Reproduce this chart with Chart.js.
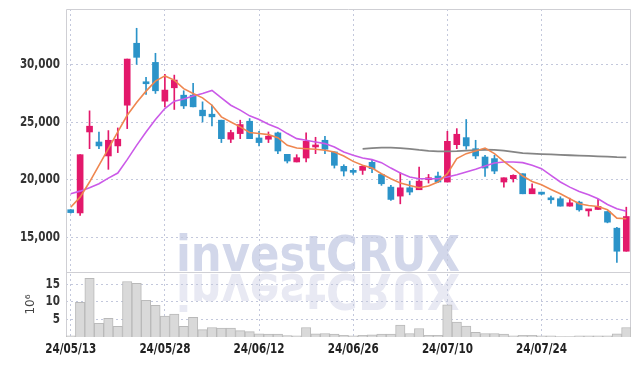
<!DOCTYPE html>
<html>
<head>
<meta charset="utf-8">
<script src="https://cdn.jsdelivr.net/npm/chart.js@4.4.1/dist/chart.umd.min.js"></script>
<style>
  html, body { margin: 0; padding: 0; background: #fff; }
  #wrap { width: 639px; height: 366px; }
</style>
</head>
<body>
<div id="wrap"><canvas id="c" width="639" height="366"></canvas></div>
<script>
// trading days shown on the x axis
const dates = [
  '24/05/13','24/05/14','24/05/16','24/05/17','24/05/20','24/05/21','24/05/22','24/05/23','24/05/24','24/05/27',
  '24/05/28','24/05/29','24/05/30','24/05/31','24/06/03','24/06/04','24/06/05','24/06/07','24/06/10','24/06/11',
  '24/06/12','24/06/13','24/06/14','24/06/17','24/06/18','24/06/19','24/06/20','24/06/21','24/06/24','24/06/25',
  '24/06/26','24/06/27','24/06/28','24/07/01','24/07/02','24/07/03','24/07/04','24/07/05','24/07/08','24/07/09',
  '24/07/10','24/07/11','24/07/12','24/07/15','24/07/16','24/07/17','24/07/18','24/07/19','24/07/22','24/07/23',
  '24/07/24','24/07/25','24/07/26','24/07/29','24/07/30','24/07/31','24/08/01','24/08/02','24/08/05','24/08/06'
];

const open  = [17400,17120,24140,23270,22060,22930,26460,31830,28490,30170,
               26810,27970,27330,27330,26030,25680,25160,23510,24000,25070,
               23620,23510,24060,22200,21540,21880,22840,23420,22410,21160,
               20750,20810,21510,20460,19360,18580,19300,19130,20000,20320,
               19800,23040,23650,22690,21970,21830,19800,20090,20520,18780,
               18870,18400,18350,17710,18060,17300,17420,17240,15800,13800];
const high  = [17400,22170,25970,24140,24260,24490,30460,33130,28870,30960,
               29130,29070,27710,28350,26750,26460,25160,24290,25160,25300,
               24200,24140,24140,22200,22170,24060,23680,23770,22410,21300,
               20960,21250,21680,20460,19510,20610,19880,21100,20460,20670,
               24200,24430,25220,23420,22120,22120,20170,20430,20520,19650,
               18930,18580,18520,18400,18140,17420,18290,17240,15880,17620];
const low   = [17100,16900,22690,22690,20900,22350,24430,30000,27390,27480,
               26320,26090,26170,26320,25010,24670,23220,23220,23560,23560,
               22930,23220,22260,21450,21540,21540,22260,22260,21010,20320,
               20460,20460,20610,19510,18200,17910,18690,19130,19710,19740,
               19800,22690,22640,21830,20290,20520,19360,19800,18780,18780,
               18700,17950,17710,17710,17270,16840,17420,16260,12840,13800];
const close = [17150,22170,24640,22930,23420,23510,30460,30610,28320,27710,
               27770,28640,26400,26320,25540,25450,23560,24090,24780,23560,
               23220,23770,22490,21620,21910,23330,22980,22640,21250,20750,
               20640,21160,20960,19650,18290,19300,18930,19880,20170,19800,
               23330,23940,22930,22060,21010,20750,20170,20380,18780,19220,
               18750,18260,17710,18000,17390,17420,17680,16320,13800,16810];

// volume in millions of shares
const volume = [0.3,9.8,16.6,3.9,5.3,3.0,15.7,15.2,10.4,9.0,
                5.9,6.5,3.0,5.6,2.1,2.7,2.5,2.5,1.8,1.5,
                0.9,0.8,0.8,0.4,0.3,2.7,0.9,1.0,0.8,0.5,
                0.3,0.5,0.6,0.85,0.85,3.4,1.0,2.4,0.5,0.5,
                9.1,4.2,3.1,1.3,1.0,1.0,0.8,0.3,0.5,0.5,
                0.3,0.3,0.1,0.1,0.3,0.3,0.3,0.3,0.9,2.7];

// moving average lines
const maShort = [17620,18490,19800,21250,22690,24140,25590,26700,27680,28550,
                 29000,28640,27900,27480,27100,26460,25450,25010,24580,24090,
                 24000,23910,23650,22980,22750,22690,22640,22550,22400,22060,
                 21590,21250,21010,20520,20090,19710,19500,19300,19450,19800,
                 20520,21830,22260,22490,22750,22260,21590,20960,20320,19850,
                 19560,19160,18780,18350,17910,17770,17680,17390,16670,16610];
const maMid   = [18780,19010,19300,19650,20140,20580,21740,22980,24140,25220,
                 26170,26810,26990,27250,27480,27740,27100,26460,26030,25540,
                 25220,24810,24490,24000,23560,23420,23270,23130,22840,22400,
                 22120,21880,21740,21480,21010,20580,20230,20090,20090,20090,
                 20230,20430,20670,20900,21190,21450,21540,21540,21480,21250,
                 20960,20380,19800,19360,18980,18690,18350,17850,17480,17270];
const maLong  = [null,null,null,null,null,null,null,null,null,null,
                 null,null,null,null,null,null,null,null,null,null,
                 null,null,null,null,null,null,null,null,null,null,
                 null,22670,22740,22790,22780,22740,22680,22580,22500,22460,
                 22460,22480,22530,22570,22600,22580,22520,22420,22300,22260,
                 22220,22190,22160,22120,22090,22060,22030,22000,21960,21940];

const priceTicks = [15000, 20000, 25000, 30000];
const volTicks = [5, 10, 15];

const UP = '#e3186b', DOWN = '#2b93c9';
const candleColors = open.map((o, i) => close[i] >= o ? UP : DOWN);
const GRID = '#c3c8dc';
const LABEL_FONT = 'bold 14.5px "DejaVu Sans Condensed", "DejaVu Sans", sans-serif';

const watermark = {
  id: 'watermark',
  beforeDraw(chart) {
    const ctx = chart.ctx;
    const yb = chart.scales.y.bottom;
    ctx.save();
    ctx.font = 'bold 50px "DejaVu Sans", sans-serif';
    ctx.textBaseline = 'alphabetic';
    const txt = 'investCRUX';
    const sx = 284 / ctx.measureText(txt).width;
    // mirrored copy under the price panel
    ctx.save();
    ctx.beginPath();
    ctx.rect(0, yb, chart.width, 44);
    ctx.clip();
    ctx.translate(176, yb + 2);
    ctx.scale(sx, -1);
    ctx.fillStyle = '#e8e9f3';
    ctx.fillText(txt, 0, 0);
    ctx.restore();
    ctx.translate(176, yb - 1);
    ctx.scale(sx, 1);
    ctx.fillStyle = '#d2d7ea';
    ctx.fillText(txt, 0, 0);
    ctx.restore();
  }
};

const frame = {
  id: 'frame',
  beforeDatasetsDraw(chart) {
    const {ctx, chartArea: a} = chart;
    const yb = chart.scales.y.bottom;
    ctx.save();
    ctx.strokeStyle = '#cfcfd4';
    ctx.lineWidth = 1;
    ctx.beginPath();
    ctx.moveTo(a.left + 0.5, a.bottom);
    ctx.lineTo(a.left + 0.5, a.top + 0.5);
    ctx.lineTo(a.right - 0.5, a.top + 0.5);
    ctx.lineTo(a.right - 0.5, a.bottom);
    ctx.moveTo(a.left, Math.round(yb) + 0.5);
    ctx.lineTo(a.right, Math.round(yb) + 0.5);
    ctx.stroke();
    ctx.restore();
  }
};

// tick labels in a narrowed face, like the original
let squeeze = 0.8;
function narrowText(ctx, txt, x, y, align, base, color) {
  ctx.save();
  ctx.translate(x, y);
  ctx.scale(squeeze, 1);
  ctx.font = LABEL_FONT;
  ctx.fillStyle = color;
  ctx.textAlign = align;
  ctx.textBaseline = base;
  ctx.fillText(txt, 0, 0);
  ctx.restore();
}

const tickLabels = {
  id: 'tickLabels',
  afterDraw(chart) {
    const ctx = chart.ctx;
    const {x, y, v} = chart.scales;
    ctx.save();
    ctx.font = LABEL_FONT;
    squeeze = 51 / ctx.measureText('24/05/13').width;
    ctx.restore();
    const right = chart.chartArea.left - 6;
    priceTicks.forEach(t => narrowText(ctx, t.toLocaleString('en-US'), right, y.getPixelForValue(t), 'right', 'middle', '#333'));
    volTicks.forEach(t => narrowText(ctx, String(t), right, v.getPixelForValue(t), 'right', 'middle', '#333'));
    dates.forEach((d, i) => {
      if (i % 10 === 0) narrowText(ctx, d, x.getPixelForValue(i), chart.chartArea.bottom + 5, 'center', 'top', '#222');
    });
  }
};

function noPad(s) { s.paddingTop = 0; s.paddingBottom = 0; s.paddingLeft = 0; s.paddingRight = 0; }

new Chart(document.getElementById('c'), {
  type: 'bar',
  data: {
    labels: dates,
    datasets: [
      { type: 'line', data: maShort, yAxisID: 'y', borderColor: '#ef8750', borderWidth: 1.6, pointRadius: 0, tension: 0 },
      { type: 'line', data: maMid, yAxisID: 'y', borderColor: '#cb5ae8', borderWidth: 1.6, pointRadius: 0, tension: 0 },
      { type: 'line', data: maLong, yAxisID: 'y', borderColor: '#858585', borderWidth: 1.8, pointRadius: 0, tension: 0 },
      { data: open.map((o, i) => [o, close[i]]), yAxisID: 'y', backgroundColor: candleColors,
        barThickness: 6, grouped: false, minBarLength: 2 },
      { data: low.map((l, i) => [l, high[i]]), yAxisID: 'y', backgroundColor: candleColors,
        barThickness: 1, grouped: false },
      { data: volume, yAxisID: 'v', backgroundColor: '#d9d9d9', borderColor: '#b9b9b9', borderWidth: 1,
        barPercentage: 1, categoryPercentage: 1, grouped: false }
    ]
  },
  options: {
    responsive: false,
    animation: false,
    devicePixelRatio: 1,
    layout: { padding: { top: 9, right: 8, left: 0, bottom: 0 } },
    plugins: { legend: { display: false }, tooltip: { enabled: false } },
    scales: {
      x: {
        type: 'category',
        offset: true,
        grid: { offset: false, drawTicks: false, color: c => (c.index % 10 === 0 ? GRID : 'transparent') },
        border: { display: false, dash: [2, 3] },
        ticks: { display: false, autoSkip: false },
        afterFit: s => { s.height = 29; noPad(s); }
      },
      y: {
        position: 'left', stack: 'main', stackWeight: 263, weight: 2,
        min: 12000, max: 34800,
        afterBuildTicks: s => { s.ticks = priceTicks.map(t => ({ value: t })); },
        grid: { color: GRID, drawTicks: false },
        border: { display: false, dash: [2, 3] },
        ticks: { display: false },
        afterFit: s => { s.width = 66; noPad(s); }
      },
      v: {
        position: 'left', stack: 'main', stackWeight: 65, weight: 1,
        min: 0, max: 18.4,
        afterBuildTicks: s => { s.ticks = volTicks.map(t => ({ value: t })); },
        grid: { color: GRID, drawTicks: false },
        border: { display: false, dash: [2, 3] },
        ticks: { display: false },
        title: { display: true, text: '10⁶', color: '#444', font: { family: '"DejaVu Sans", sans-serif', size: 12 },
                 padding: { top: 24, bottom: 0 } },
        afterFit: s => { s.width = 66; noPad(s); }
      }
    }
  },
  plugins: [watermark, frame, tickLabels]
});
</script>
</body>
</html>
